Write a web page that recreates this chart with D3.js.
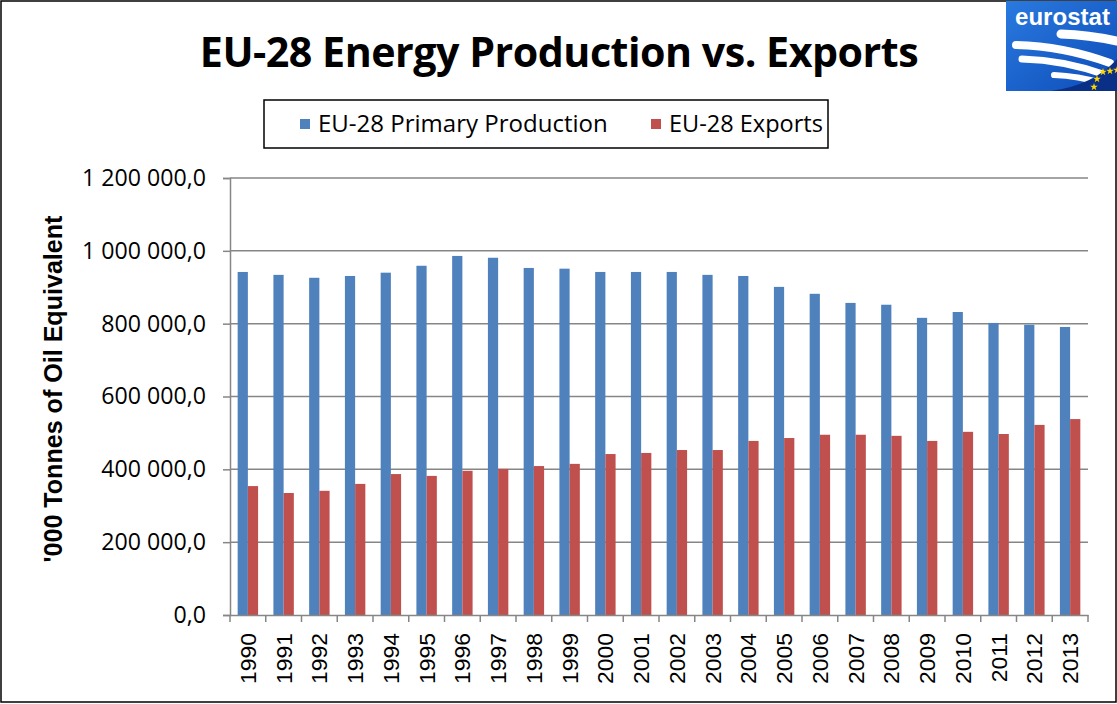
<!DOCTYPE html>
<meta charset="utf-8">
<script src="https://d3js.org/d3.v7.min.js"></script>
<style>
  body { margin: 0; background: #fff; }
</style>
<svg id="chart" width="1117" height="704"></svg>
<script>
// data
const years = ["1990","1991","1992","1993","1994","1995","1996","1997","1998","1999","2000","2001",
  "2002","2003","2004","2005","2006","2007","2008","2009","2010","2011","2012","2013"];
const production = [942000, 934000, 926000, 931000, 940000, 959000, 986000, 981000, 953000, 951000, 942000, 942000,
  942000, 934000, 931000, 901000, 882000, 857000, 852000, 816000, 832000, 802000, 797000, 791000];
const exportsData = [354000, 335000, 341000, 360000, 387000, 382000, 396000, 401000, 409000, 415000, 442000, 445000,
  453000, 453000, 478000, 486000, 495000, 495000, 492000, 478000, 503000, 497000, 522000, 538000];
const seriesNames = ["EU-28 Primary Production", "EU-28 Exports"];
const seriesColors = ["#4F81BD", "#C0504D"];
const yTicks = [0, 200000, 400000, 600000, 800000, 1000000, 1200000];

const svg = d3.select("#chart");
const W = 1117, H = 704;
const plot = { left: 230, right: 1088, top: 178, bottom: 615 };

// shrink/grow a text to a target width, returns new size
function fitWidth(sel, target) {
  const size = +sel.attr("font-size");
  const w = sel.node().getComputedTextLength();
  sel.attr("font-size", size * target / w);
  return size * target / w;
}

// outer border
svg.append("rect")
  .attr("x", 1).attr("y", 1).attr("width", W - 2).attr("height", H - 3)
  .attr("fill", "#fff").attr("stroke", "#000").attr("stroke-width", 1.5);

const x0 = d3.scaleBand().domain(years).range([plot.left, plot.right]).padding(0);
const bw = x0.bandwidth();
const groupW = bw * 2 / 3.5;
const x1 = d3.scaleBand().domain([0, 1]).range([(bw - groupW) / 2, (bw + groupW) / 2]);
const y = d3.scaleLinear().domain([0, 1200000]).range([plot.bottom, plot.top]);

const fmt = v => {
  const s = d3.format(",.1f")(v);
  return s.replace(/,/g, " ").replace(".", ",");
};

// gridlines
svg.append("g")
  .selectAll("line")
  .data(yTicks.slice(1))
  .join("line")
  .attr("x1", plot.left).attr("x2", plot.right)
  .attr("y1", d => y(d)).attr("y2", d => y(d))
  .attr("stroke", "#868686").attr("stroke-width", 1.5);

// bars
const rows = years.map((yr, i) => ({ year: yr, vals: [production[i], exportsData[i]] }));
svg.append("g")
  .selectAll("g")
  .data(rows)
  .join("g")
  .attr("transform", d => `translate(${x0(d.year)},0)`)
  .selectAll("rect")
  .data(d => d.vals.map((v, k) => ({ k, v })))
  .join("rect")
  .attr("x", d => x1(d.k))
  .attr("width", x1.bandwidth())
  .attr("y", d => y(d.v))
  .attr("height", d => y(0) - y(d.v))
  .attr("fill", d => seriesColors[d.k]);

// y axis
const yAxis = svg.append("g")
  .attr("transform", `translate(${plot.left},0)`)
  .call(d3.axisLeft(y).tickValues(yTicks).tickFormat(fmt).tickSize(7).tickPadding(17));
yAxis.select(".domain").attr("stroke", "#868686").attr("stroke-width", 1.5);
yAxis.selectAll(".tick line").attr("stroke", "#868686").attr("stroke-width", 1.5);
const yLabels = yAxis.selectAll("text")
  .attr("font-family", "'Open Sans', sans-serif")
  .attr("font-size", 20).attr("fill", "#000");
const ySize = fitWidth(yLabels.filter(d => d === 1200000), 124);
yLabels.attr("font-size", ySize);

// x axis
const xAxis = svg.append("g")
  .attr("transform", `translate(0,${plot.bottom})`)
  .call(d3.axisBottom(x0).tickSize(0).tickPadding(0));
xAxis.select(".domain").attr("stroke", "#868686").attr("stroke-width", 1.5);
const xLabels = xAxis.selectAll(".tick text")
  .attr("font-family", "'Liberation Sans', Arial, sans-serif")
  .attr("font-size", 23).attr("fill", "#000")
  .attr("transform", "translate(0,18) rotate(-90)")
  .attr("text-anchor", "end")
  .attr("dy", "0.35em")
  .attr("x", 0).attr("y", 0);
const xSize = fitWidth(xLabels.filter(d => d === "1990"), 51);
xLabels.attr("font-size", xSize);
// tick marks between categories
xAxis.append("g")
  .selectAll("line")
  .data(d3.range(years.length + 1))
  .join("line")
  .attr("x1", i => plot.left + i * bw).attr("x2", i => plot.left + i * bw)
  .attr("y1", 0).attr("y2", 7)
  .attr("stroke", "#868686").attr("stroke-width", 1.5);

// y axis title
svg.append("text")
  .attr("transform", `translate(62,389) rotate(-90)`)
  .attr("text-anchor", "middle")
  .attr("font-family", "'Liberation Sans', Arial, sans-serif")
  .attr("font-weight", "bold").attr("font-size", 23)
  .text("'000 Tonnes of Oil Equivalent")
  .call(fitWidth, 347);

// title
svg.append("text")
  .attr("x", 559).attr("y", 67)
  .attr("text-anchor", "middle")
  .attr("font-family", "'Open Sans', sans-serif")
  .attr("font-weight", "bold").attr("font-size", 40)
  .attr("letter-spacing", -0.5)
  .text("EU-28 Energy Production vs. Exports")
  .call(fitWidth, 718);

// legend
const legend = svg.append("g");
legend.append("rect")
  .attr("x", 264).attr("y", 100).attr("width", 564).attr("height", 48)
  .attr("fill", "#fff").attr("stroke", "#000").attr("stroke-width", 1.5);
const legX = [300, 651];
const legW = [290, 154];
seriesNames.forEach((name, k) => {
  legend.append("rect")
    .attr("x", legX[k]).attr("y", 119).attr("width", 10).attr("height", 10)
    .attr("fill", seriesColors[k]);
  legend.append("text")
    .attr("x", legX[k] + 18).attr("y", 132)
    .attr("font-family", "'Open Sans', sans-serif")
    .attr("font-size", 20).attr("fill", "#000")
    .text(name)
    .call(fitWidth, legW[k]);
});

// eurostat logo
const logo = svg.append("g").attr("transform", "translate(1006,1)");
const grad = svg.append("defs").append("linearGradient")
  .attr("id", "logoGrad").attr("x1", 0).attr("y1", 0).attr("x2", 1).attr("y2", 1);
grad.append("stop").attr("offset", 0).attr("stop-color", "#2a7ae0");
grad.append("stop").attr("offset", 1).attr("stop-color", "#0d4cb8");
logo.append("rect").attr("width", 111).attr("height", 90).attr("fill", "url(#logoGrad)");
logo.append("text")
  .attr("x", 9).attr("y", 24)
  .attr("font-family", "'Liberation Sans', Arial, sans-serif")
  .attr("font-weight", "bold").attr("font-size", 22).attr("fill", "#fff")
  .text("eurostat")
  .call(fitWidth, 95);
// white swooshes
[[55, 33, 111, 40, 9], [10, 44, 104, 62, 8], [16, 58, 100, 74, 7], [48, 74, 96, 82, 6]].forEach(s => {
  logo.append("path")
    .attr("d", `M${s[0]},${s[1]} Q${(s[0] + s[2]) / 2},${s[1] + 1} ${s[2]},${s[3]}`)
    .attr("fill", "none").attr("stroke", "#fff").attr("stroke-width", s[4])
    .attr("stroke-linecap", "round");
});
logo.append("path")
  .attr("d", "M45,90 Q88,84 111,58 L111,90 Z")
  .attr("fill", "#0a2f86");
[[97, 71], [104, 70], [111, 69], [91, 78], [88, 86]].forEach(p => {
  logo.append("path")
    .attr("d", d3.symbol(d3.symbolStar, 18)())
    .attr("transform", `translate(${p[0]},${p[1]})`)
    .attr("fill", "#ffd800");
});
</script>
